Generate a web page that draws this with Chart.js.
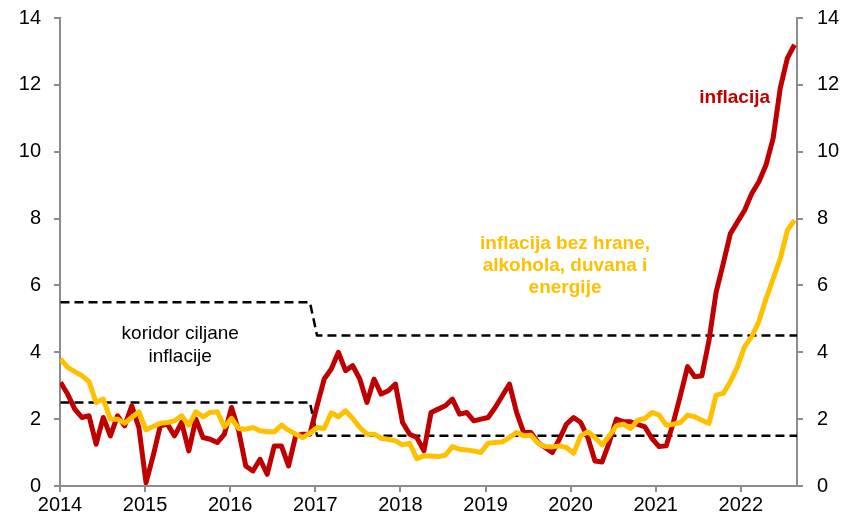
<!DOCTYPE html>
<html><head><meta charset="utf-8">
<script src="https://cdn.jsdelivr.net/npm/chart.js@4.4.1/dist/chart.umd.min.js"></script>
<style>html,body{margin:0;padding:0;background:#fff}#wrap{width:841px;height:521px;position:relative}</style>
</head><body><div id="wrap"><canvas id="c" width="841" height="521"></canvas></div>
<script>
// ---- data (monthly, Jan 2014 – Aug 2022) ----
const yearLabels = ['2014','2015','2016','2017','2018','2019','2020','2021','2022'];
const inflation = [
  3.1, 2.75, 2.3, 2.05, 2.1, 1.25, 2.05, 1.5, 2.1, 1.8, 2.4, 1.75,
  0.1, 0.9, 1.8, 1.85, 1.5, 1.9, 1.05, 2.0, 1.45, 1.4, 1.3, 1.55,
  2.35, 1.65, 0.6, 0.45, 0.8, 0.35, 1.2, 1.2, 0.6, 1.5, 1.55, 1.55,
  2.4, 3.2, 3.5, 4.0, 3.45, 3.6, 3.2, 2.5, 3.2, 2.75, 2.85, 3.05,
  1.9, 1.55, 1.45, 1.05, 2.2, 2.3, 2.4, 2.6, 2.15, 2.2, 1.95, 2.0,
  2.05, 2.35, 2.7, 3.05, 2.2, 1.6, 1.6, 1.3, 1.15, 1.0, 1.4, 1.85,
  2.05, 1.9, 1.45, 0.75, 0.72, 1.3, 2.0, 1.92, 1.92, 1.84, 1.77, 1.42,
  1.18, 1.2, 1.9, 2.72, 3.57, 3.27, 3.3, 4.35, 5.8, 6.65, 7.55, 7.9,
  8.25, 8.75, 9.1, 9.6, 10.4, 11.9, 12.8, 13.2
];
const coreInflation = [
  3.8, 3.55, 3.42, 3.3, 3.12, 2.5, 2.6, 2.0, 2.0, 1.88, 2.05, 2.22,
  1.68, 1.78, 1.88, 1.9, 1.95, 2.1, 1.82, 2.22, 2.07, 2.2, 2.22, 1.77,
  2.02, 1.72, 1.7, 1.75, 1.65, 1.62, 1.62, 1.82, 1.67, 1.55, 1.45, 1.58,
  1.75, 1.72, 2.19, 2.07, 2.25, 2.02, 1.75, 1.55, 1.55, 1.43, 1.4, 1.35,
  1.23, 1.28, 0.82, 0.9, 0.9, 0.88, 0.92, 1.18, 1.1, 1.08, 1.05, 1.0,
  1.28, 1.3, 1.32, 1.45, 1.6, 1.5, 1.52, 1.28, 1.18, 1.17, 1.2, 1.15,
  0.98, 1.5, 1.62, 1.45, 1.23, 1.5, 1.8, 1.85, 1.72, 1.97, 2.02, 2.2,
  2.12, 1.82, 1.85, 1.9, 2.12, 2.07, 1.97, 1.87, 2.72, 2.77, 3.12, 3.57,
  4.17, 4.47, 4.92, 5.6, 6.2, 6.8, 7.65, 7.95
];
// target corridor breakpoints (month index from Jan 2014)
const corridorMonths = [0, 35, 36, 103.35];
const corridorUpper = [5.5, 5.5, 4.5, 4.5];
const corridorLower = [2.5, 2.5, 1.5, 1.5];

const labelInflation = ['inflacija'];
const labelCore = ['inflacija bez hrane,', 'alkohola, duvana i', 'energije'];
const labelCorridor = ['koridor ciljane', 'inflacije'];

// ---- build ----
const FONT = "'Liberation Sans', Arial, sans-serif";
const toXY = arr => arr.map((v, i) => ({x: i, y: v}));
const corr = arr => arr.map((v, k) => ({x: corridorMonths[k], y: v}));

const xMin = -0.07, xMax = 103.35, monthsPerTick = 11.942;

const annotations = {
  id: 'annotations',
  afterDatasetsDraw(chart) {
    const {ctx, scales: {x, y}} = chart;
    ctx.save();
    ctx.textAlign = 'center';
    ctx.textBaseline = 'middle';
    const put = (lines, xi, y0, step, color, bold) => {
      ctx.fillStyle = color;
      ctx.font = (bold ? 'bold ' : '') + '19px ' + FONT;
      lines.forEach((t, k) => ctx.fillText(t, x.getPixelForValue(xi), y.getPixelForValue(y0) + k * step));
    };
    put(labelInflation, 94.6, 11.6, 22, '#C00000', true);
    put(labelCore, 70.8, 7.24, 22, '#FFC000', true);
    put(labelCorridor, 16.8, 4.54, 23, '#000000', false);
    ctx.restore();
  }
};

const axisColor = '#8c8c8c';
const tickFont = {family: FONT, size: 20};
const noPadV = s => { s.paddingTop = 0; s.paddingBottom = 0; };

new Chart(document.getElementById('c'), {
  type: 'line',
  data: {
    datasets: [
      {data: toXY(coreInflation), borderColor: '#FFC000', borderWidth: 5, order: 1},
      {data: toXY(inflation), borderColor: '#C00000', borderWidth: 5, order: 2},
      {data: corr(corridorUpper), borderColor: '#000', borderWidth: 2.5, borderDash: [9, 5], order: 3},
      {data: corr(corridorLower), borderColor: '#000', borderWidth: 2.5, borderDash: [9, 5], order: 3}
    ]
  },
  options: {
    responsive: false,
    animation: false,
    layout: {padding: {top: 18, left: 0, right: 0, bottom: 0}},
    plugins: {legend: {display: false}, tooltip: {enabled: false}},
    elements: {point: {radius: 0}, line: {tension: 0, borderJoinStyle: 'round', borderCapStyle: 'butt', fill: false}},
    scales: {
      x: {
        type: 'linear', min: xMin, max: xMax, position: 'bottom',
        afterBuildTicks: s => { s.ticks = yearLabels.map((l, k) => ({value: xMin + k * monthsPerTick})); },
        ticks: {autoSkip: false, maxRotation: 0, color: '#000', font: tickFont, padding: 1,
                callback: (v, i) => yearLabels[i]},
        grid: {drawOnChartArea: false, drawTicks: true, tickLength: 6, color: axisColor, lineWidth: 2},
        border: {display: true, color: axisColor, width: 2},
        afterFit: s => { s.height = 35; s.paddingLeft = 0; s.paddingRight = 0; }
      },
      y: {
        position: 'left', min: 0, max: 14,
        ticks: {stepSize: 2, color: '#000', font: tickFont, padding: 13},
        grid: {drawOnChartArea: false, drawTicks: true, tickLength: 6, color: axisColor, lineWidth: 2},
        border: {display: true, color: axisColor, width: 2},
        afterFit: s => { s.width = 60; noPadV(s); }
      },
      y2: {
        position: 'right', min: 0, max: 14,
        ticks: {stepSize: 2, color: '#000', font: tickFont, padding: 14},
        grid: {drawOnChartArea: false, drawTicks: true, tickLength: 6, color: axisColor, lineWidth: 2},
        border: {display: true, color: axisColor, width: 2},
        afterFit: s => { s.width = 44; noPadV(s); }
      }
    }
  },
  plugins: [annotations]
});
</script>
</body></html>
